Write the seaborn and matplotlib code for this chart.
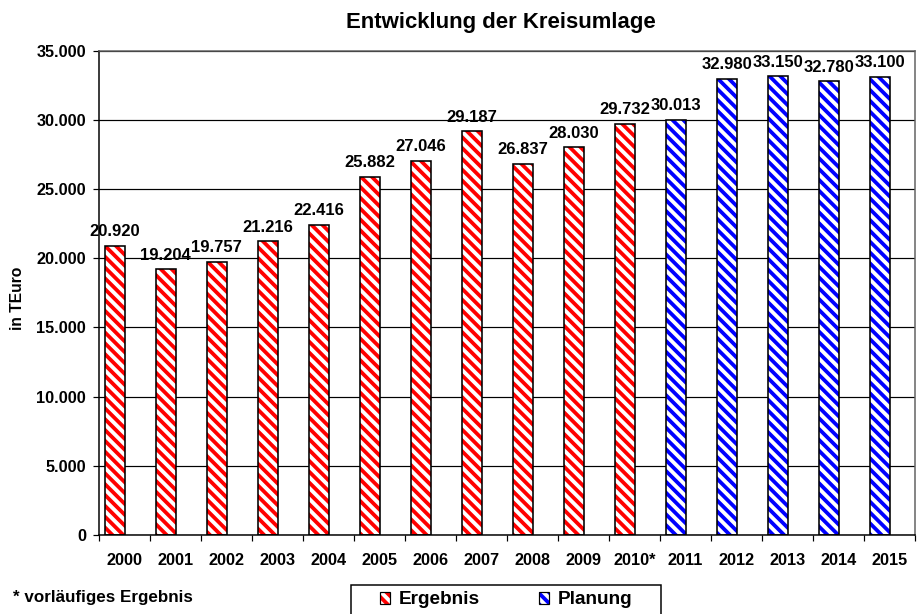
import numpy as np
import pandas as pd
import matplotlib
matplotlib.use("Agg")
import matplotlib.pyplot as plt
import seaborn as sns
from matplotlib.patches import Patch, Rectangle
from matplotlib.legend_handler import HandlerTuple

years = ["2000", "2001", "2002", "2003", "2004", "2005", "2006", "2007",
         "2008", "2009", "2010*", "2011", "2012", "2013", "2014", "2015"]
values = [20920, 19204, 19757, 21216, 22416, 25882, 27046, 29187,
          26837, 28030, 29732, 30013, 32980, 33150, 32780, 33100]
kind = ["Ergebnis"] * 11 + ["Planung"] * 5

df = pd.DataFrame({"Jahr": years, "Wert": values, "Art": kind})

DPI = 130  # larger dpi -> coarser hatch stripes like the original
HATCH = "\\\\\\\\"


def pt(px):
    # pixel size -> points at the chosen dpi
    return px * 72 / DPI


sns.set_theme(style="white")
plt.rcParams["font.family"] = ["Liberation Sans", "DejaVu Sans"]
plt.rcParams["text.color"] = "black"
plt.rcParams["hatch.linewidth"] = 2.1

farben = {"Ergebnis": "#ff0000", "Planung": "#0000ff"}
W, H = 918, 614

fig = plt.figure(figsize=(W / DPI, H / DPI), dpi=DPI)
ax = fig.add_axes([99 / W, 1 - 535 / H, 816 / W, (535 - 50.7) / H])

# hatched fill first, then black outlines on top
sns.barplot(data=df, x="Jahr", y="Wert", hue="Art", palette=farben,
            width=0.39, dodge=False, legend=False, ax=ax)
for patch, art in zip(ax.patches, kind):
    patch.set_facecolor("white")
    patch.set_edgecolor(farben[art])
    patch.set_hatch(HATCH)
    patch.set_linewidth(0)

sns.barplot(data=df, x="Jahr", y="Wert", color="white", width=0.39,
            fill=False, edgecolor="black", linewidth=pt(1.6), ax=ax)

labels = [f"{v:,.0f}".replace(",", ".") for v in values]
ax.bar_label(ax.containers[-1], labels=labels, padding=pt(6.5),
             fontsize=pt(16.7), fontweight="bold", color="black")

# bars sit left of the category centre, as in the original
shift = 0.19
ax.set_ylim(0, 35000)
ax.set_xlim(-0.5 + shift, len(years) - 0.5 + shift)
yt = np.arange(0, 35001, 5000)
ax.set_yticks(yt)
ax.set_yticklabels([f"{t:,.0f}".replace(",", ".") for t in yt],
                   fontsize=pt(16.2), fontweight="bold", color="black")
ax.set_xticks(np.arange(len(years)) + shift)
ax.set_xticklabels(years, fontsize=pt(16.2), fontweight="bold", color="black")
ax.set_xticks(np.arange(len(years) + 1) - 0.5 + shift, minor=True)
ax.tick_params(axis="x", which="major", length=0, pad=pt(18))
ax.tick_params(axis="x", which="minor", length=pt(6), width=pt(1.2),
               color="black", direction="out", bottom=True)
ax.tick_params(axis="y", length=pt(6), width=pt(1.2), color="black",
               direction="out", left=True, pad=pt(7))
ax.yaxis.grid(True, color="black", linewidth=pt(1.2))
ax.set_axisbelow(True)

for side in ["left", "bottom"]:
    ax.spines[side].set_color("black")
    ax.spines[side].set_linewidth(pt(1.5))
for side in ["top", "right"]:
    ax.spines[side].set_color("#606060")
    ax.spines[side].set_linewidth(pt(1.5))

ax.set_xlabel("")
ax.set_ylabel("")
fig.text(17 / W, 1 - 298 / H, "in TEuro", rotation=90, ha="center",
         va="center", fontsize=pt(15.7), fontweight="bold")

fig.text(501 / W, 1 - 28 / H, "Entwicklung der Kreisumlage", ha="center",
         va="baseline", fontsize=pt(22.2), fontweight="bold")
fig.text(13 / W, 1 - 602 / H, "* vorläufiges Ergebnis", ha="left",
         va="baseline", fontsize=pt(17), fontweight="bold")

# legend: hatched square with black outline
handles = []
for k in ["Ergebnis", "Planung"]:
    fill = Patch(facecolor="white", edgecolor=farben[k], hatch=HATCH,
                 linewidth=0)
    rand = Patch(fill=False, edgecolor="black", linewidth=pt(1.2))
    handles.append((fill, rand))
leg = fig.legend(handles=handles, labels=["Ergebnis", "Planung"],
                 handler_map={tuple: HandlerTuple(ndivide=1, pad=0)},
                 loc="center left", bbox_to_anchor=(380 / W, 1 - 600 / H),
                 ncol=2, frameon=False, borderpad=0, borderaxespad=0,
                 prop={"weight": "bold", "size": pt(19)},
                 handlelength=0.55, handleheight=0.55, handletextpad=0.45,
                 columnspacing=3.1)
for t in leg.get_texts():
    t.set_color("black")
fig.patches.append(Rectangle((351 / W, -0.02), 310 / W, 0.02 + 1 - 585 / H,
                             transform=fig.transFigure, fill=False,
                             edgecolor="black", linewidth=pt(1.5)))

fig.savefig("out.png", dpi=DPI)
